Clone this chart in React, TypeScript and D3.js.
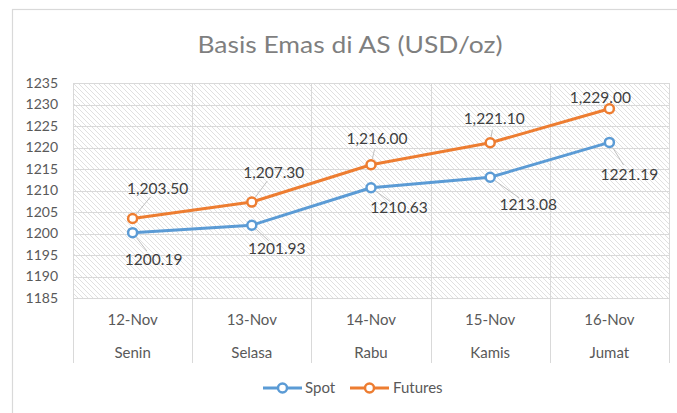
import React from "react";
import * as d3 from "d3";

const dates = ["12-Nov", "13-Nov", "14-Nov", "15-Nov", "16-Nov"];
const days = ["Senin", "Selasa", "Rabu", "Kamis", "Jumat"];
const spot = [1200.19, 1201.93, 1210.63, 1213.08, 1221.19];
const futures = [1203.5, 1207.3, 1216.0, 1221.1, 1229.0];
const yTicks = [1185, 1190, 1195, 1200, 1205, 1210, 1215, 1220, 1225, 1230, 1235];
const spotLabels = ["1200.19", "1201.93", "1210.63", "1213.08", "1221.19"];
const futuresLabels = ["1,203.50", "1,207.30", "1,216.00", "1,221.10", "1,229.00"];

// label offsets (layout, not data)
const spotOff = [[21, 27], [25, 23], [28, 20], [38, 27], [20, 32]];
const futOff = [[25, -30], [22, -30], [6, -26], [4, -24], [-9, -11]];

const W = 677, H = 413;
const left = 73, right = 669, top = 83, bottom = 298;
const FONT = "Lato, 'Open Sans', sans-serif";
const BLUE = "#5B9BD5";
const ORANGE = "#ED7D31";
const GRID = "#d9d9d9";
const TXT = "#595959";
const LBL = "#404040";

export default function App() {
  const x = d3.scaleBand<string>().domain(dates).range([left, right]);
  const y = d3.scaleLinear().domain([1185, 1235]).range([bottom, top]);
  const cx = (i: number) => (x(dates[i]) as number) + x.bandwidth() / 2;
  const line = d3
    .line<number>()
    .x((_, i) => cx(i))
    .y((d) => y(d));
  const edges = dates.map((d) => x(d) as number).concat([right]);

  const leader = (px: number, py: number, tx: number, ty: number) => {
    const dx = tx - px, dy = ty - py;
    const len = Math.hypot(dx, dy);
    if (len < 18) return null;
    const ux = dx / len, uy = dy / len;
    const x1 = px + ux * 6, y1 = py + uy * 6;
    const x2 = tx - ux * 11, y2 = ty - uy * 11;
    return <line x1={x1} y1={y1} x2={x2} y2={y2} stroke="#bfbfbf" strokeWidth={1} />;
  };

  return (
    <svg width={W} height={H} style={{ position: "absolute", left: 0, top: 0, background: "#fff" }} fontFamily={FONT}>
      <defs>
        <pattern id="hatch" patternUnits="userSpaceOnUse" width={5} height={5}>
          <rect width={5} height={5} fill="#fff" />
          <path d="M0,0 L5,5 M-1,4 L1,6 M4,-1 L6,1" stroke="#dcdcdc" strokeWidth={0.9} />
        </pattern>
      </defs>
      <rect x={12.5} y={9.5} width={W + 20} height={H + 20} fill="#fff" stroke={GRID} strokeWidth={1.2} />
      <text x={350} y={53} textAnchor="middle" fontSize={23.5} fill="#7f7f7f" textLength={305} lengthAdjust="spacingAndGlyphs">
        Basis Emas di AS (USD/oz)
      </text>
      <rect x={left} y={top} width={right - left} height={bottom - top} fill="url(#hatch)" />
      {yTicks.map((t) => (
        <line key={"g" + t} x1={left} x2={right} y1={Math.round(y(t)) + 0.5} y2={Math.round(y(t)) + 0.5} stroke={GRID} strokeWidth={1} />
      ))}
      {edges.map((e, i) => (
        <line key={"v" + i} x1={Math.round(e) + 0.5} x2={Math.round(e) + 0.5} y1={top} y2={363} stroke={GRID} strokeWidth={1} />
      ))}
      {yTicks.map((t) => (
        <text key={"t" + t} x={58} y={y(t)} dy="0.35em" textAnchor="end" fontSize={14} fill={TXT}>
          {t}
        </text>
      ))}
      {dates.map((d, i) => (
        <g key={d}>
          <text x={cx(i)} y={320} dy="0.35em" textAnchor="middle" fontSize={15} fill={TXT}>{d}</text>
          <text x={cx(i)} y={353} dy="0.35em" textAnchor="middle" fontSize={15} fill={TXT}>{days[i]}</text>
        </g>
      ))}
      <path d={line(spot) as string} fill="none" stroke={BLUE} strokeWidth={3} strokeLinejoin="round" />
      <path d={line(futures) as string} fill="none" stroke={ORANGE} strokeWidth={3} strokeLinejoin="round" />
      {spot.map((v, i) => (
        <g key={"sl" + i}>{leader(cx(i), y(v), cx(i) + spotOff[i][0], y(v) + spotOff[i][1])}</g>
      ))}
      {futures.map((v, i) => (
        <g key={"fl" + i}>{leader(cx(i), y(v), cx(i) + futOff[i][0], y(v) + futOff[i][1])}</g>
      ))}
      {spot.map((v, i) => (
        <circle key={"sc" + i} cx={cx(i)} cy={y(v)} r={4.5} fill="#fff" stroke={BLUE} strokeWidth={2.5} />
      ))}
      {futures.map((v, i) => (
        <circle key={"fc" + i} cx={cx(i)} cy={y(v)} r={4.5} fill="#fff" stroke={ORANGE} strokeWidth={2.5} />
      ))}
      {spot.map((v, i) => (
        <text key={"st" + i} x={cx(i) + spotOff[i][0]} y={y(v) + spotOff[i][1]} dy="0.35em" textAnchor="middle" fontSize={15.5} fill={LBL}>
          {spotLabels[i]}
        </text>
      ))}
      {futures.map((v, i) => (
        <text key={"ft" + i} x={cx(i) + futOff[i][0]} y={y(v) + futOff[i][1]} dy="0.35em" textAnchor="middle" fontSize={15.5} fill={LBL}>
          {futuresLabels[i]}
        </text>
      ))}
      <g>
        <line x1={263} x2={302} y1={388} y2={388} stroke={BLUE} strokeWidth={3} />
        <circle cx={282.5} cy={388} r={4.5} fill="#fff" stroke={BLUE} strokeWidth={2.5} />
        <text x={305} y={388} dy="0.35em" fontSize={15} fill={TXT}>Spot</text>
        <line x1={350} x2={389} y1={388} y2={388} stroke={ORANGE} strokeWidth={3} />
        <circle cx={369.5} cy={388} r={4.5} fill="#fff" stroke={ORANGE} strokeWidth={2.5} />
        <text x={393} y={388} dy="0.35em" fontSize={15} fill={TXT}>Futures</text>
      </g>
    </svg>
  );
}
